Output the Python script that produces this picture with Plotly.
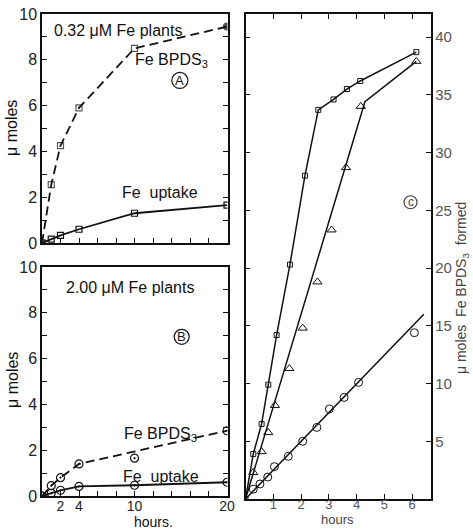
import plotly.graph_objects as go

# ---------------- data ----------------
# Panel A (0.32 uM Fe plants)
a_hours = [0, 1, 2, 4, 10, 20]
a_bpds = [0, 2.55, 4.25, 5.9, 8.5, 9.45]
a_uptake = [0, 0.17, 0.33, 0.6, 1.3, 1.65]

# Panel B (2.00 uM Fe plants)
b_hours = [0, 1, 2, 4, 10, 20]
b_bpds = [0, 0.45, 0.8, 1.4, 1.65, 2.85]
b_bpds_line_hours = [0, 1, 2, 4, 20]
b_bpds_line = [0, 0.45, 0.8, 1.4, 2.85]
b_uptake = [0, 0.12, 0.25, 0.42, 0.47, 0.6]

# Panel C
c_sq_hours = [0, 0.28, 0.58, 0.82, 1.12, 1.6, 2.14, 2.62, 3.17, 3.65, 4.13, 6.15]
c_sq = [0, 3.9, 6.5, 9.9, 14.2, 20.3, 28.0, 33.7, 34.6, 35.5, 36.2, 38.7]
c_tri_hours = [0.28, 0.58, 0.82, 1.06, 1.58, 2.06, 2.59, 3.1, 3.62, 4.15, 6.15]
c_tri = [2.3, 4.1, 5.75, 8.1, 11.3, 14.8, 18.8, 23.3, 28.7, 34.0, 37.9]
c_tri_line_hours = [0, 4.3, 6.15]
c_tri_line = [0, 34.4, 37.9]
c_circ_hours = [0.28, 0.52, 0.8, 1.04, 1.54, 2.06, 2.57, 3.02, 3.55, 4.07, 6.08]
c_circ = [0.85, 1.3, 1.9, 2.8, 3.7, 5.0, 6.2, 7.8, 8.8, 10.1, 14.4]
c_circ_fit_hours = [0, 6.42]
c_circ_fit = [0, 16.0]

ab_tickvals = list(range(0, 11))
ab_ticktext = ["0", "", "2", "", "4", "", "6", "", "8", "", "10"]
ab_xtickvals = list(range(2, 21, 2))
b_xticktext = ["2", "4", "", "", "10", "", "", "", "", "20"]
c_ytickvals = [5, 10, 15, 20, 25, 30, 35, 40]
c_xtickvals = [1, 2, 3, 4, 5, 6]

# ---------------- figure ----------------
W, H = 473, 529
FONT = "Liberation Sans, Arial, sans-serif"
BLACK = "#111"

fig = go.Figure()

def px(x):
    return x / W

def py(y):
    return 1 - y / H

# Panel A
fig.add_trace(go.Scatter(x=a_hours, y=a_bpds, mode="lines+markers", xaxis="x", yaxis="y",
                         line=dict(color=BLACK, width=1.8, dash="9px,5px"),
                         marker=dict(symbol=["square-open"] * 5 + ["circle"], size=[6, 6, 6, 6, 6, 7],
                                     color=BLACK, line=dict(width=1.2, color=BLACK))))
fig.add_trace(go.Scatter(x=a_hours, y=a_uptake, mode="lines+markers", xaxis="x", yaxis="y",
                         line=dict(color=BLACK, width=1.8),
                         marker=dict(symbol="square-open", size=6, color=BLACK, line=dict(width=1.2))))

# Panel B
fig.add_trace(go.Scatter(x=b_bpds_line_hours, y=b_bpds_line, mode="lines", xaxis="x2", yaxis="y2",
                         line=dict(color=BLACK, width=1.8, dash="9px,5px")))
fig.add_trace(go.Scatter(x=b_hours, y=b_bpds, mode="markers", xaxis="x2", yaxis="y2",
                         marker=dict(symbol="circle-open-dot", size=8, color=BLACK, line=dict(width=1.2))))
fig.add_trace(go.Scatter(x=b_hours, y=b_uptake, mode="lines+markers", xaxis="x2", yaxis="y2",
                         line=dict(color=BLACK, width=1.8),
                         marker=dict(symbol="circle-open-dot", size=8, color=BLACK, line=dict(width=1.2))))

# Panel C
fig.add_trace(go.Scatter(x=c_sq_hours, y=c_sq, mode="lines+markers", xaxis="x3", yaxis="y3",
                         line=dict(color=BLACK, width=1.5),
                         marker=dict(symbol="square-open", size=5, color=BLACK, line=dict(width=1))))
fig.add_trace(go.Scatter(x=c_tri_line_hours, y=c_tri_line, mode="lines", xaxis="x3", yaxis="y3",
                         line=dict(color=BLACK, width=1.5)))
fig.add_trace(go.Scatter(x=c_tri_hours, y=c_tri, mode="markers", xaxis="x3", yaxis="y3",
                         marker=dict(symbol="triangle-up-open", size=8, color=BLACK, line=dict(width=1))))
fig.add_trace(go.Scatter(x=c_circ_fit_hours, y=c_circ_fit, mode="lines", xaxis="x3", yaxis="y3",
                         line=dict(color=BLACK, width=1.5)))
fig.add_trace(go.Scatter(x=c_circ_hours, y=c_circ, mode="markers", xaxis="x3", yaxis="y3",
                         marker=dict(symbol="circle-open", size=8, color=BLACK, line=dict(width=1))))

axis_common = dict(showline=True, linecolor=BLACK, linewidth=1.5, ticks="inside", ticklen=5,
                   tickwidth=1.3, tickcolor=BLACK, showgrid=False, zeroline=False, automargin=False)

ab_xdom = [px(42), px(227.5)]

fig.update_layout(
    width=W, height=H,
    margin=dict(l=0, r=0, t=0, b=0, pad=0),
    paper_bgcolor="white", plot_bgcolor="white",
    showlegend=False,
    font=dict(family=FONT, size=16, color=BLACK),
    xaxis=dict(domain=ab_xdom, range=[0, 20.05], anchor="y", tickvals=ab_xtickvals,
               showticklabels=False, mirror=True, **axis_common),
    yaxis=dict(domain=[py(243), py(14)], range=[0, 10], anchor="x", tickvals=ab_tickvals,
               ticktext=ab_ticktext, mirror="ticks", tickfont=dict(size=16, color="#222"), **axis_common),
    xaxis2=dict(domain=ab_xdom, range=[0, 20.05], anchor="y2", tickvals=ab_xtickvals,
                ticktext=b_xticktext, mirror=True, tickfont=dict(size=14, color="#222"),
                ticklabelstandoff=-4, **axis_common),
    yaxis2=dict(domain=[py(496), py(267)], range=[0, 10], anchor="x2", tickvals=ab_tickvals,
                ticktext=ab_ticktext, mirror="ticks", tickfont=dict(size=16, color="#222"), **axis_common),
    xaxis3=dict(domain=[px(245.5), px(430.5)], range=[0, 6.66], anchor="y3", tickvals=c_xtickvals,
                mirror="ticks", tickfont=dict(size=13, color="#555"), ticklabelstandoff=-7, **axis_common),
    yaxis3=dict(domain=[py(499), py(14)], range=[0, 42.0], anchor="x3", side="right",
                tickvals=c_ytickvals, mirror="ticks", tickfont=dict(size=15, color="#555"), **axis_common),
)

ann = []
def add_text(text, x, y, xref, yref, size=16, angle=0, color=BLACK, yanchor="middle"):
    ann.append(dict(text=text, x=x, y=y, xref=xref, yref=yref, showarrow=False,
                    font=dict(family=FONT, size=size, color=color), textangle=angle,
                    xanchor="center", yanchor=yanchor))

# Panel A texts
add_text("0.32 \u03bcM Fe plants", 8.2, 9.3, "x", "y")
add_text("Fe BPDS<sub>3</sub>", 14.0, 7.95, "x", "y")
add_text("A", 14.9, 7.1, "x", "y", size=13)
add_text("Fe  uptake", 12.8, 2.2, "x", "y")
add_text("\u03bc moles", px(12), py(128), "paper", "paper", angle=-90)

# Panel B texts
add_text("2.00 \u03bcM Fe plants", 9.5, 9.1, "x2", "y2")
add_text("B", 15.1, 6.95, "x2", "y2", size=13)
add_text("Fe BPDS<sub>3</sub>", 12.8, 2.7, "x2", "y2")
add_text("Fe  uptake", 12.9, 0.83, "x2", "y2")
add_text("\u03bc moles", px(12), py(380), "paper", "paper", angle=-90)
add_text("hours.", px(153), py(521.5), "paper", "paper", size=14)

# Panel C texts
add_text("c", 5.94, 25.7, "x3", "y3", size=12, color="#444")
add_text("hours", px(337), py(529), "paper", "paper", size=13, color="#444", yanchor="bottom")
add_text("\u03bc moles  Fe BPDS<sub>3</sub>  formed", px(462), py(288), "paper", "paper",
         size=14, angle=-90, color="#444")

fig.update_layout(annotations=ann)

shapes = []
def circle(xv, yv, xref, yref, d, color=BLACK):
    shapes.append(dict(type="circle", xref=xref, yref=yref, xsizemode="pixel", ysizemode="pixel",
                       xanchor=xv, yanchor=yv, x0=-d / 2, x1=d / 2, y0=-d / 2, y1=d / 2,
                       line=dict(color=color, width=1.2)))

circle(14.9, 7.1, "x", "y", 16)
circle(15.1, 6.95, "x2", "y2", 15)
circle(5.94, 25.7, "x3", "y3", 13, color="#444")
fig.update_layout(shapes=shapes)

fig.write_html("out.html", config={"displayModeBar": False},
               post_script="document.body.style.margin='0px';")
